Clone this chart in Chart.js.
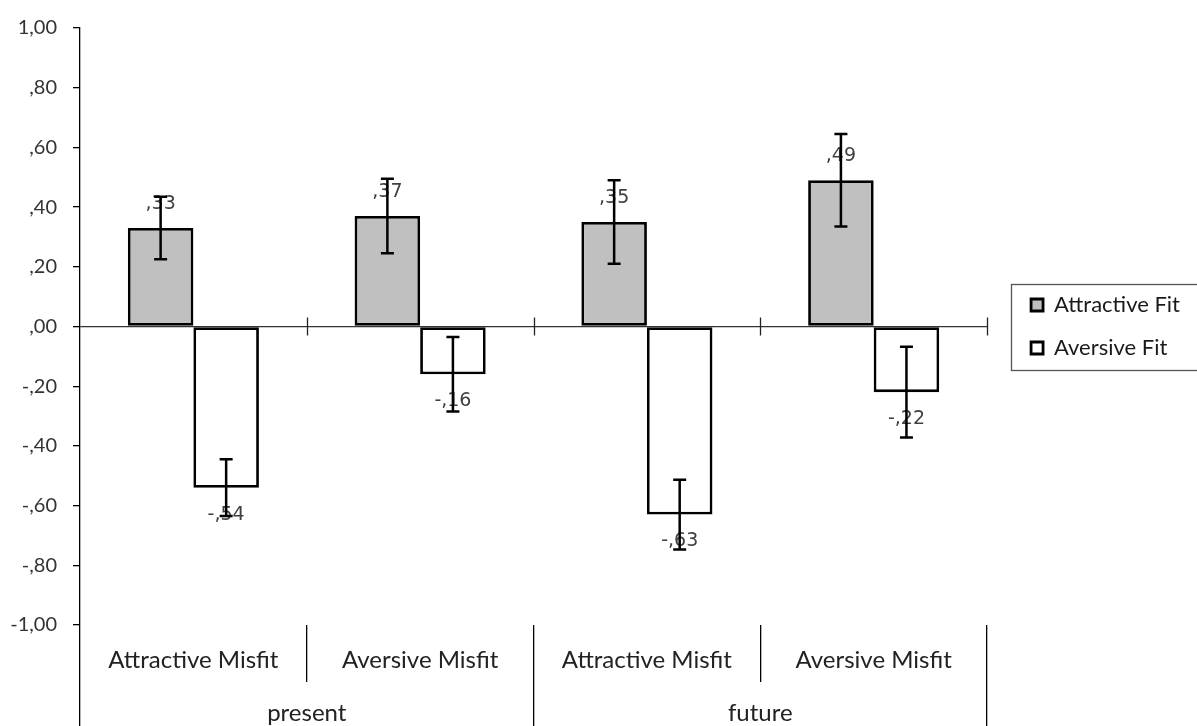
<!DOCTYPE html>
<html>
<head>
<meta charset="utf-8">
<script src="https://cdn.jsdelivr.net/npm/chart.js@4.4.0/dist/chart.umd.min.js"></script>
<style>
html, body { margin: 0; padding: 0; background: #fff; }
#wrap { width: 1197px; height: 726px; }
</style>
</head>
<body>
<div id="wrap"><canvas id="bar-chart"></canvas></div>
<script>
var categories = ["Attractive Misfit", "Aversive Misfit", "Attractive Misfit", "Aversive Misfit"];
var groups = ["present", "future"];
var attractiveFit = [0.33, 0.37, 0.35, 0.49];
var aversiveFit = [-0.54, -0.16, -0.63, -0.22];
// half-length of the error bars
var attractiveErr = [0.105, 0.125, 0.14, 0.155];
var aversiveErr = [0.095, 0.125, 0.117, 0.152];
var yMin = -1, yMax = 1, yStep = 0.2;

function fmt(v) {
    var s = Math.abs(v).toFixed(2).replace('.', ',');
    if (s.charAt(0) === '0') s = s.slice(1);
    return (v < -1e-9 ? '-' : '') + s;
}

var errors = [attractiveErr, aversiveErr];

// value labels + error bars
var barExtras = {
    id: 'barExtras',
    afterDatasetsDraw: function(chart) {
        var ctx = chart.ctx;
        var y = chart.scales.y;
        ctx.save();
        ctx.font = '19px "DejaVu Sans"';
        ctx.fillStyle = '#404040';
        ctx.textAlign = 'center';
        ctx.textBaseline = 'middle';
        chart.data.datasets.forEach(function(ds, di) {
            chart.getDatasetMeta(di).data.forEach(function(bar, i) {
                var v = ds.data[i];
                var ly = v >= 0 ? bar.y - 24 : bar.y + 27;
                ctx.fillText(fmt(v), bar.x, ly);
            });
        });
        ctx.strokeStyle = '#000';
        ctx.lineWidth = 2.5;
        chart.data.datasets.forEach(function(ds, di) {
            chart.getDatasetMeta(di).data.forEach(function(bar, i) {
                var v = ds.data[i], e = errors[di][i];
                var top = y.getPixelForValue(v + e), bot = y.getPixelForValue(v - e);
                ctx.beginPath();
                ctx.moveTo(bar.x, top); ctx.lineTo(bar.x, bot);
                ctx.moveTo(bar.x - 6.5, top); ctx.lineTo(bar.x + 6.5, top);
                ctx.moveTo(bar.x - 6.5, bot); ctx.lineTo(bar.x + 6.5, bot);
                ctx.stroke();
            });
        });
        // small tick marks across the zero line at category borders
        var x = chart.scales.x;
        var half = (x.getPixelForValue(1) - x.getPixelForValue(0)) / 2;
        var y0 = y.getPixelForValue(0);
        ctx.lineWidth = 1.3;
        ctx.strokeStyle = '#222';
        for (var k = 0; k < categories.length; k++) {
            var bx = Math.round(x.getPixelForValue(k) + half) + 0.5;
            ctx.beginPath();
            ctx.moveTo(bx, y0 - 9); ctx.lineTo(bx, y0 + 9);
            ctx.stroke();
        }
        ctx.restore();
    }
};

var legendFrame = {
    id: 'legendFrame',
    afterLayout: function(chart) {
        chart.legend.left += 23;
        chart.legend.right += 23;
    },
    afterDraw: function(chart) {
        var l = chart.legend, ctx = chart.ctx;
        var mid = (l.top + l.bottom) / 2;
        ctx.save();
        ctx.strokeStyle = '#555';
        ctx.lineWidth = 1.3;
        ctx.strokeRect(Math.round(l.left + 1) + 0.5, Math.round(mid - 43) + 0.5, chart.width, 86);
        ctx.restore();
    }
};

Chart.defaults.font.family = 'Lato';
Chart.defaults.color = '#333';

new Chart(document.getElementById("bar-chart"), {
    type: 'bar',
    data: {
        labels: categories,
        datasets: [{
            label: "Attractive Fit",
            data: attractiveFit,
            backgroundColor: "#c0c0c0",
            borderColor: "#000",
            borderWidth: 2.8,
            borderSkipped: false
        }, {
            label: "Aversive Fit",
            data: aversiveFit,
            backgroundColor: "#fff",
            borderColor: "#000",
            borderWidth: 2.8,
            borderSkipped: false
        }]
    },
    options: {
        responsive: true,
        maintainAspectRatio: false,
        animation: false,
        layout: { padding: { top: 20, right: 30, bottom: 0, left: 0 } },
        datasets: { bar: { categoryPercentage: 0.578, barPercentage: 1 } },
        plugins: {
            tooltip: { enabled: false },
            legend: {
                position: 'right',
                fullSize: false,
                labels: { boxWidth: 12, boxHeight: 12, padding: 21, font: { size: 22 }, color: '#1a1a1a' }
            }
        },
        scales: {
            y: {
                min: yMin,
                max: yMax,
                afterFit: function(s) { s.width = 80; },
                ticks: { stepSize: yStep, padding: 16, font: { size: 20 }, color: '#333', callback: function(v) { return fmt(v); } },
                grid: {
                    color: function(c) { return c.tick && Math.abs(c.tick.value) < 1e-9 ? '#333' : 'rgba(0,0,0,0)'; },
                    tickColor: '#000',
                    tickLength: 7,
                    lineWidth: 1.3
                },
                border: { color: '#000', width: 1.3 }
            },
            x: {
                type: 'category',
                offset: true,
                weight: 0,
                afterFit: function(s) { s.height = 57; },
                grid: { offset: true, drawOnChartArea: false, color: '#000', tickLength: 57, lineWidth: 1.3 },
                border: { display: false },
                ticks: { padding: -36, font: { size: 24 }, color: '#222', maxRotation: 0, autoSkip: false }
            },
            x2: {
                type: 'category',
                labels: groups,
                position: 'bottom',
                offset: true,
                weight: 1,
                afterFit: function(s) { s.height = 44; },
                grid: { offset: true, drawOnChartArea: false, color: '#000', tickLength: 44, lineWidth: 1.3 },
                border: { display: false },
                ticks: { padding: -27, font: { size: 24 }, color: '#222', maxRotation: 0 }
            }
        }
    },
    plugins: [barExtras, legendFrame]
});
</script>
</body>
</html>
